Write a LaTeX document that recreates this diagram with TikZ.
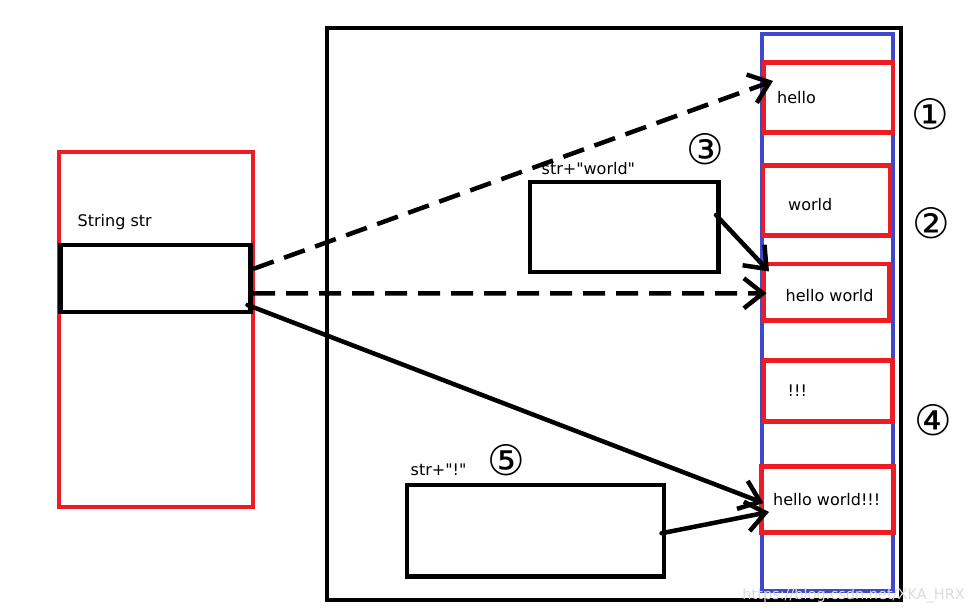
\documentclass[tikz,border=0pt]{standalone}
\usepackage{fontspec}
\setmainfont{DejaVu Sans}
\usetikzlibrary{positioning,arrows.meta}
\definecolor{paintred}{RGB}{237,28,36}
\definecolor{paintblue}{RGB}{63,72,204}
\tikzset{
	x=1pt, y=-1pt,% one unit is one pixel of the screenshot, y runs downwards
	box/.style = {rectangle, draw, line width=4.5pt, inner sep=0pt, outer sep=0pt, anchor=north west}, % empty frame, placed by its top left corner
	cell/.style = {box, draw=paintred},
	txt/.style = {inner sep=0pt, anchor=base west, font=\fontsize{16}{19}\selectfont},
	num/.style = {inner sep=0pt, font=\fontsize{42}{44}\selectfont}
}

\begin{document}
\begin{tikzpicture}
	\tikzset{my edge/.style = {-{Straight Barb[length=19pt,width=30pt]}, line width=4.5pt, line cap=round}}
	\tikzset{dash edge/.style = {my edge, dash pattern=on 22pt off 11pt, line cap=butt}}
	\useasboundingbox (0,0) rectangle (974,612);
	% stack frame on the left
	\node[cell, minimum width=194pt, minimum height=355pt] (frame) at (59,152) {};
	\node[box, minimum width=190pt, minimum height=67pt] (str) at (60.5,245) {};
	\node[txt] (strname) at (77.5,227) {String str};
	% heap with the string pool
	\node[box, minimum width=574pt, minimum height=572pt] (heap) at (327,28) {};
	\node[box, draw=paintblue, line width=4pt, minimum width=131.5pt, minimum height=556.5pt] (pool) at (761.5,34.5) {};
	\node[cell, minimum width=129pt, minimum height=70pt] (hello) at (764,62.5) {};
	\node[cell, minimum width=127pt, minimum height=70pt] (world) at (763,165.5) {};
	\node[cell, minimum width=125.5pt, minimum height=56.5pt] (hw) at (763.5,264) {};
	\node[cell, minimum width=128.5pt, minimum height=61pt] (excl) at (764,360.5) {};
	\node[cell, minimum width=132.5pt, minimum height=66pt] (hwe) at (761.5,466.5) {};
	\node[txt] at (777,104) {hello};
	\node[txt] at (788,211) {world};
	\node[txt] at (785.5,301.5) {hello world};
	\node[txt] at (787.5,396.5) {!!!};
	\node[txt] at (773,505) {hello world!!!};
	% temporary results
	\node[box, minimum width=188.5pt, minimum height=90pt] (sw) at (530,182) {};
	\node[txt] (swname) at (541.5,175) {str+\textquotedbl world\textquotedbl};
	\node[box, minimum width=257pt, minimum height=91.5pt] (se) at (407,485) {};
	\node[txt] (sename) at (410.5,475) {str+\textquotedbl!\textquotedbl};
	% step numbers
	\node[num] (n1) at (930,114.5) {①};
	\node[num] (n2) at (931.5,223) {②};
	\node[num] (n3) at (705,149) {③};
	\node[num] (n4) at (933,420) {④};
	\node[num] (n5) at (506.5,460.5) {⑤};
	% references
	\draw[dash edge] ([xshift=2.5pt,yshift=9.5pt]str.east) -- ([xshift=9pt,yshift=-18.5pt]hello.north west);
	\draw[dash edge] ([xshift=2.5pt,yshift=-15pt]str.east) -- ([xshift=3pt,yshift=-1pt]hw.west);
	\draw[my edge] ([xshift=-2.5pt,yshift=12pt]sw.east) -- ([xshift=5.5pt,yshift=-7.5pt]hw.north west);
	\draw[my edge] ([xshift=-3pt,yshift=-26.5pt]str.east) -- ([xshift=2pt,yshift=-3.5pt]hwe.west);
	\draw[my edge] ([xshift=-2.5pt,yshift=-2.5pt]se.east) -- ([xshift=7.5pt,yshift=-12.5pt]hwe.west);
	\node[inner sep=0pt, anchor=base east, text=black!14, font=\fontsize{14.5}{16}\selectfont] (mark) at (965,599) {https://blog.csdn.net/XKA\_HRX};
\end{tikzpicture}
\end{document}
